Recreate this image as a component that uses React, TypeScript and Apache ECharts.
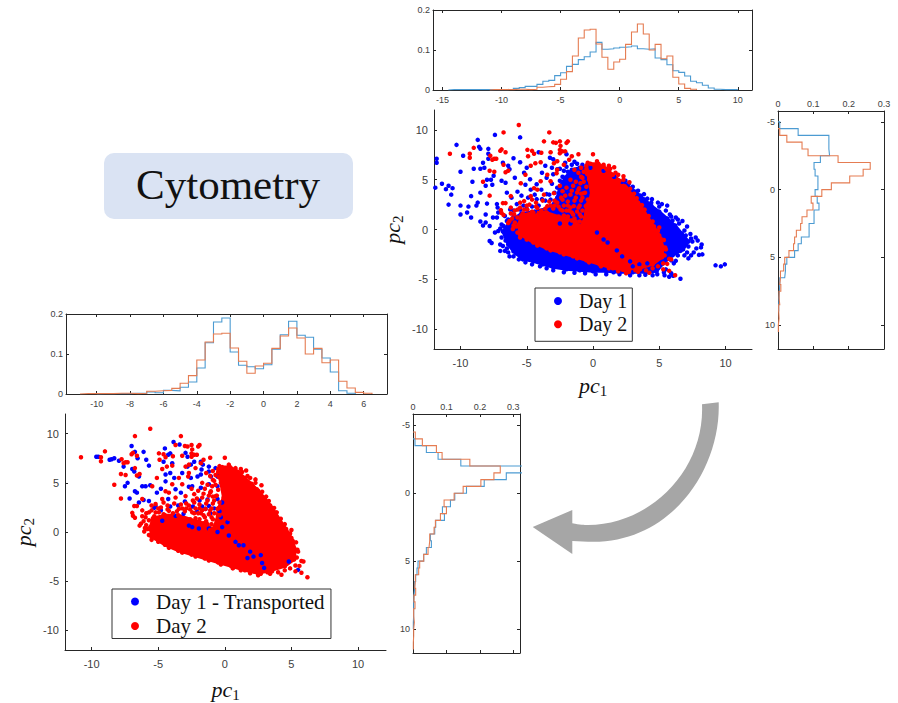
import React, { useEffect, useRef } from "react";
import * as echarts from "echarts";

const TITLE = "Cytometry";
const LEGEND_TOP = ["Day 1", "Day 2"];
const LEGEND_BOTTOM = ["Day 1 - Transported", "Day 2"];
const BLUE_DOT = "#0000ff";
const RED_DOT = "#ff0000";
const HIST_BLUE = "#4c9bd2";
const HIST_ORANGE = "#e57c52";
const INK = "#262626";
const BIN = 0.5;

const scatterXTicks = [-10, -5, 0, 5, 10];
const scatterYTicks = [-10, -5, 0, 5, 10];
const topHistXTicks = [-15, -10, -5, 0, 5, 10];
const leftHistXTicks = [-10, -8, -6, -4, -2, 0, 2, 4, 6];
const freqTicks = [0, 0.1, 0.2];
const sideFreqTicks = [0, 0.1, 0.2, 0.3];
const sideYTicks = [-5, 0, 5, 10];

// horizontal histograms: first bin edge, then bin heights
const topHistBlueStart = -14.5;
const topHistBlue = [0.001, 0.001, 0.001, 0.001, 0.001, 0.001, 0.001, 0.001, 0.001, 0.001, 0.002, 0.004, 0.006, 0.009, 0.009, 0.014, 0.022, 0.024, 0.036, 0.043, 0.059, 0.064, 0.076, 0.083, 0.095, 0.119, 0.102, 0.103, 0.105, 0.107, 0.108, 0.11, 0.103, 0.102, 0.103, 0.08, 0.076, 0.063, 0.048, 0.044, 0.035, 0.022, 0.018, 0.012, 0.005, 0.002, 0.001, 0.001, 0.001];
const day2HistStart = -11;
const day2Hist = [0.001, 0.001, 0.001, 0.001, 0.002, 0.002, 0.001, 0.002, 0.007, 0.008, 0.009, 0.014, 0.027, 0.046, 0.085, 0.13, 0.15, 0.152, 0.115, 0.082, 0.052, 0.07, 0.077, 0.114, 0.145, 0.165, 0.14, 0.1, 0.114, 0.078, 0.085, 0.032, 0.015, 0.004, 0.002];
const leftHistBlueStart = -10;
const leftHistBlue = [0.001, 0.001, 0.001, 0.001, 0.002, 0.002, 0.005, 0.003, 0.009, 0.008, 0.017, 0.03, 0.065, 0.128, 0.18, 0.19, 0.105, 0.072, 0.068, 0.063, 0.073, 0.112, 0.148, 0.182, 0.147, 0.142, 0.112, 0.09, 0.055, 0.008, 0.002];

// vertical histograms
const rightHistBlueStart = -5;
const rightHistBlue = [0.005, 0.057, 0.144, 0.144, 0.146, 0.12, 0.102, 0.105, 0.113, 0.113, 0.105, 0.111, 0.116, 0.102, 0.102, 0.088, 0.088, 0.066, 0.057, 0.047, 0.025, 0.021, 0.019, 0.005, 0.004, 0.003, 0.002, 0.002];
const rightHistOrangeStart = -4.5;
const rightHistOrange = [0.005, 0.025, 0.068, 0.085, 0.17, 0.261, 0.241, 0.203, 0.151, 0.124, 0.094, 0.099, 0.082, 0.068, 0.064, 0.052, 0.047, 0.044, 0.031, 0.019, 0.016, 0.007, 0.005, 0.008, 0.003, 0.005, 0.002, 0.003, 0.001, 0.001];
const sideHistBlueStart = -4;
const sideHistBlue = [0.006, 0.04, 0.075, 0.143, 0.36, 0.279, 0.213, 0.16, 0.125, 0.112, 0.088, 0.094, 0.068, 0.065, 0.052, 0.055, 0.04, 0.032, 0.015, 0.012, 0.008, 0.005, 0.003, 0.002, 0.002, 0.002, 0.001, 0.001];
const sideHistOrangeStart = -4.5;
const sideHistOrange = [0.007, 0.028, 0.07, 0.087, 0.17, 0.261, 0.242, 0.203, 0.15, 0.123, 0.093, 0.1, 0.082, 0.067, 0.063, 0.05, 0.048, 0.045, 0.032, 0.02, 0.017, 0.007, 0.005, 0.008, 0.003, 0.006, 0.002, 0.004, 0.002, 0.002, 0.001, 0.001];

// dense part of each cloud, outlined
const day1Mass = [[-6.8, -0.2], [-6.4, -1.5], [-6, -2.2], [-5.3, -3], [-4.5, -3.2], [-3.8, -3.5], [-3, -3.8], [-2, -4], [-1, -4.1], [0, -4.2], [1, -4.2], [2, -4.3], [3, -4.3], [4, -4.3], [4.8, -4.2], [5.3, -3.4], [6, -2.6], [6.8, -2], [7.2, -1.2], [6.7, -0.4], [6.2, 0.4], [5.6, 1.1], [5, 1.8], [4.4, 2.4], [3.9, 3], [3.2, 3.8], [2.5, 4.5], [1.6, 5.3], [0.8, 5.9], [-0.2, 6.2], [-1, 6.2], [-1.6, 6], [-2.1, 5.2], [-2.5, 4.3], [-2.7, 3.2], [-3.2, 2.2], [-4.4, 1.8], [-5.4, 1.6], [-6.2, 0.9]];
const day2Mass = [[-5.5, -0.5], [-4.5, -1.3], [-3.5, -1.9], [-2.5, -2.3], [-1.5, -2.7], [-0.5, -3.1], [0.5, -3.5], [1.5, -3.9], [2.5, -4.2], [3.5, -3.9], [4.5, -3.5], [5.2, -2.8], [5.3, -1.8], [5, -0.6], [4.6, 0.3], [4.1, 1.3], [3.6, 2.4], [3, 3.4], [2.5, 4.2], [2, 4.9], [1.5, 5.5], [1, 6.1], [0.4, 6.6], [-0.2, 6.6], [-0.5, 6.1], [-0.3, 5], [-0.1, 3.5], [-0.5, 2.4], [-0.6, 1.2], [-0.9, 0.3], [-1.6, 0.9], [-2.6, 1.3], [-3.5, 1.7], [-4.5, 1.7], [-5.4, 1.4], [-5.6, 0.5]];

// loose points around the dense parts
const day1Points = [[-11.9, 4.2], [-11.8, 7.1], [-11.8, 6.7], [-11.4, 4.6], [-11.1, 4.05], [-10.9, 4.4], [-10.6, 4.15], [-10.7, 3.5], [-10.9, 2.5], [-10.3, 8.5], [-10, 5.8], [-10, 2.4], [-10, 1.5], [-9.8, 7.4], [-9.4, 2.3], [-9.5, 1.7], [-9.2, 1.2], [-9.2, 3.35], [-9.1, 4.8], [-9, 6.1], [-8.7, 9], [-8.6, 8.3], [-8.5, 8.1], [-8.8, 2.4], [-8.7, 2.7], [-8.5, 3.7], [-8.5, 6.1], [-8.3, 6.7], [-8.2, 6.2], [-8, 5], [-8.1, 4.4], [-8, 2.6], [-8.1, 1.5], [-8.5, 0.8], [-8.3, 0.4], [-8.1, 0.7], [-7.9, 8.1], [-7.9, 7.6], [-7.9, 7.1], [-7.7, 5], [-7.6, 4.5], [-7.5, 5.4], [-7.4, 9.5], [-7.2, 2.2], [-6.9, 4.9], [-6.6, 4.7], [-6.8, 6.7], [-6.4, 6.4], [-6.3, 6.05], [-6, 7.15], [-5.9, 5.2], [-5.5, 6.75], [-5.5, 9.25], [-5, 6.2], [-5.2, 5.7], [-4.75, 5.05], [-4.25, 4.55], [-4.1, 7.75], [-3.6, 6.4], [-3.85, 5.7], [-3.25, 7.2], [-3, 7.05], [-3.1, 6.2], [-3.5, 5.2], [-3, 5.55], [-2.7, 6.05], [-2.1, 6.7], [-2, 7.55], [-6.5, 3.7], [-6.15, 3.2], [-7.25, 2.55], [-7.15, 1.7], [-7.55, 1.2], [-7.25, 1.2], [-7.8, 0.35], [-7.4, -0.3], [-7.8, -1.15], [-7.65, -1.35], [-7.15, -0.15], [-6.9, -0.8], [-7, -1.5], [-7, -2.15], [-6.65, -2.15], [-6.4, -2.3], [-6.8, -1.65], [-6.75, 0.35], [-6.5, 0.85], [-6.65, 1.35], [-6.25, 2], [-5.75, 2.55], [-5.25, 2.4], [-4.9, 3.2], [-4.25, 3.05], [-3.5, 3.55], [-3.85, 3.05], [9.95, -3.5], [9.65, -3.7], [9.25, -3.6], [8.25, -2.5], [8, -2.55], [8.2, -1.5], [8.15, -1.8], [7.75, -0.8], [7.35, -0.45], [6.75, 0.85], [6.25, 1.2], [6.6, -2.15], [7.1, -2.3], [7.6, -2.3], [5.6, 2.4], [5.2, 2.55], [4.45, 3.05], [3.85, 3.55], [2.45, 4.9], [6.6, -4.95], [6.05, -4.65], [5.75, -4.75], [5.85, -2.65], [6.25, -3.15], [5.35, -4.3], [4.85, -4.5], [3.95, -4.55], [1.55, -4.3],
  [7.8, -1.9], [7.5, -1.2], [7.9, -1.1], [7.2, -1.7], [7, -0.6], [7.4, -0.9], [6.9, -0.1], [7.1, 0.3], [6.5, 0.6], [6.4, 1], [5.9, 1.3], [6, 0.9], [5.5, 1.9], [5.8, 1.5], [5, 2.3], [4.9, 2.7], [4.4, 2.7], [4.1, 3.1], [3.6, 3.4], [3.4, 3.9], [3, 4.3], [2.7, 4.6], [2.2, 4.8], [6.9, -2.6], [6.4, -2.6], [7.4, -2.6], [7.2, -2.9], [6.1, -3.4], [5.9, -3.1], [5.5, -4], [5.9, -4.4], [5.4, -4.6], [4.5, -4.6], [3.5, -4.6], [2.8, -4.6], [2, -4.5], [1, -4.5], [0.2, -4.5], [-0.6, -4.4], [-1.4, -4.35], [-2.2, -4.3], [-3, -4.1], [-3.5, -3.9], [-4, -3.7], [-4.6, -3.5], [-5.1, -3.3], [-5.6, -3], [-6, -2.7], [-6.3, -2.7], [-5.8, -2.4], [-6.5, -1.9], [-6.2, -1.4], [-6.6, -1.1], [-6.1, -0.7], [-6.4, -0.4],
  [-2.9, 3.7], [-2.7, 4.2], [-2.5, 4.9], [-2.3, 5.3], [-2.2, 5.9], [-1.9, 5.8], [-1.6, 6.5], [-1.2, 6.6], [-0.8, 6.5], [-0.4, 6.55], [-1.4, 6.8], [-2, 6.3], [-2.5, 6.1], [-3.1, 4.6], [-3.3, 3.5], [-3.2, 3], [-3.6, 2.9], [-4.1, 2.4], [-4.6, 2.3], [-5, 2.1], [-5.5, 2], [-6, 1.9], [-6, 1.3], [-6.4, 1], [-6.9, 0.5], [-7, 0.1], [-4.4, 3.5], [-3.9, 4], [-4.7, 4], [-5.4, 3.4], [-5.7, 3.8], [-5.1, 4.5]];
const day1Specks = [[1.1, -1.3], [1.8, -2.1], [2.2, -2.7], [2.8, -3.2], [3, -3.7], [4.1, -3.4], [3.5, -3.5], [4.6, -3.8], [-2.5, 0.6], [-1.7, 0.6], [0.3, -0.3], [0.8, -1]];
const transportedPoints = [[-9.65, 7.65], [-9.5, 7.65], [-8.65, 7.35], [-8.5, 7.4], [-8.3, 7.5], [-7.95, 7.25], [-7.6, 6.65], [-7, 8.75], [-6.75, 8.15], [-6.1, 8.15], [-6.55, 7.5], [-5.9, 7.35], [-5.7, 6.75], [-6.95, 6.4], [-6.8, 6.15], [-6.45, 5.65], [-7.3, 5], [-7.5, 4.65], [-6.75, 4.15], [-6.6, 4], [-6.2, 4.65], [-5.95, 4.65], [-5.6, 4.75], [-7.15, 3.4], [-6.45, 3], [-6.1, 3.25], [-5.7, 3.15], [-5.2, 2.65], [-5.3, 2.45], [-5.1, 4], [-4.8, 4.4], [-4.45, 5.15], [-4.45, 5.85], [-4.1, 6], [-4.25, 3.35], [-3.85, 9.15], [-3.4, 8.9], [-4.5, 8.5], [-4.1, 8], [-4.25, 7.85], [-4.6, 7.15], [-3.95, 7], [-3.8, 5.5], [-2.95, 8.05], [-2.8, 7.65], [-3.2, 6], [-2.8, 6.65], [-2.55, 6.85], [-2.3, 7.15], [-1.8, 7.15], [-1.65, 6.85], [-1.2, 6.65], [-0.7, 6.5], [-1.75, 6.35], [-1.2, 6.15], [-2.05, 5.65], [-2.55, 5.5], [-1.8, 5.85], [-1.05, 5.65], [-0.55, 5.65], [-2.45, 4.65], [-1.8, 4.5], [-1.2, 4.85], [-0.55, 4.65], [-2.7, 4.6], [-3.7, 4.35], [-3.3, 4], [-1.45, 2.35], [-1.2, 2.65], [-0.55, 3.35], [-0.2, 3], [-2.7, 0.65], [-2.45, 0.5], [-1.95, 0.35], [-1.2, 0.35], [-0.55, 0], [-0.2, 0.5], [0.2, 1], [0.3, -0.35], [0.8, -1], [1.05, -1.35], [1.4, -1.35], [1.9, -2], [2.15, -2.5], [2.7, -2.35], [2.8, -3.15], [2.95, -3.65], [1.7, -2.65], [5.5, -3.85], [4.8, -3], [-3.7, 1.65], [-3.1, 1.85], [-4.7, 1.15],
  [-4.8, 2.2], [-4.1, 2.6], [-3.5, 2.7], [-3, 3.1], [-2.4, 2.6], [-1.9, 3.2], [-1.3, 3.3], [-1.7, 2.6], [-2.1, 2.1], [-0.8, 2.4], [-0.4, 2.1], [-0.3, 1.5], [-1.1, 1.9]];
const day2Points = [[-10.8, 7.6], [-9.3, 7.6], [-9, 8.2], [-9.3, 7.2], [-7.75, 7.4], [-7.45, 7.1], [-7.6, 7], [-7.3, 7.1], [-7.8, 5.9], [-7.45, 5.8], [-8.3, 4.8], [-6.75, 9.75], [-5.6, 10.5], [-7, 7.9], [-6.9, 8.05], [-6.6, 7.75], [-6.75, 6.5], [-6.4, 5.9], [-6.6, 5.75], [-7.8, 3.4], [-5.1, 5.5], [-4.95, 8], [-4.6, 7.9], [-4.9, 7.35], [-4.45, 7.6], [-3.9, 7.7], [-4.7, 6.4], [-4.35, 6.65], [-3.95, 6.75], [-3.3, 9.75], [-3.7, 8.85], [-3, 8.75], [-2.8, 8.7], [-2.5, 8.85], [-2.45, 8.4], [-1.9, 8.85], [-2, 8.7], [-2.5, 8], [-2.3, 7.85], [-2.1, 7.85], [-2.5, 7.65], [-3.2, 7.75], [-1.6, 7.35], [-1.1, 7.55], [0, 7.55], [-2.7, 6.85], [-2.95, 6.65], [-1.8, 7], [-2.2, 6.5], [-2.7, 6], [-2.75, 5.65], [-3.45, 5.5], [-3.2, 4.85], [-3.95, 4.85], [-4.2, 4], [-4.45, 4.15], [-5.45, 4.65], [-6.2, 3.35], [-6.6, 2.65], [-6.8, 2.65], [-6.95, 1.95], [-6.9, 1.65], [-6.75, 1.45], [-6.3, 0.85], [-6.05, 0.05], [-6.4, 0.65], [-5.95, 1.5], [-5.7, 2], [-5.2, 2.85], [-4.7, 3.35], [-3.7, 3.5], [-2.95, 3.65], [-2.3, 3.85], [-1.7, 3.5], [-0.95, 4.65], [-1.05, 4.15], [-0.7, 3.65], [-0.2, 2.5], [0.3, 1.35], [-0.55, 2.35], [-1.45, 2.35], [-2.45, 2], [-3.45, 2.35], [-4.2, 2.15], [-4.95, 2], [0.3, 6.85], [0.8, 6.5], [1.2, 6.4], [1.6, 6.25], [1.9, 5.5], [2.3, 5.35], [2.75, 4.75], [2.4, 4.35], [2.8, 3.6], [3.3, 3.15], [3.7, 2.45], [3.7, 1.85], [4.2, 1.35], [4.9, -0.15], [5.35, -1.05], [5.5, -2], [5.75, -2.95], [5.9, -3], [5.6, -3.45], [5.75, -4.15], [6.2, -4.6], [5.3, -4], [4.25, -4.35], [3.55, -4], [3.4, -4.25], [2.7, -4.25], [2.2, -4], [-5.7, 1.2], [-5.3, 1.6], [-4.6, 1.8], [-3.9, 1.9], [-3, 2.1], [-2.2, 2.4], [-1.6, 1.7], [-1, 1.5], [-0.6, 1.1], [-0.7, 0.6], [-1.4, 1.1], [-2.9, 2.9], [-1.9, 2.8], [-0.9, 2.9], [-0.5, 4.3], [-1.5, 4.4], [-0.9, 5.3], [-0.8, 3.2], [-5.6, 0.3], [-5.9, 0.7], [-5, 2.4], [-4.3, 2.7], [-3.3, 2.8], [-2.4, 3.2], [-1.2, 3.7], [-0.45, 5.6],
  [-0.7, 5.8], [-0.8, 5.2], [-0.7, 4.8], [-1.1, 4], [-0.9, 3.6], [-1.3, 3.2], [-1.4, 2.9], [-1, 2.4], [-0.8, 1.9], [-1.2, 1.8], [-1.7, 2.2], [-2, 1.9], [-2.6, 2.3], [-2.9, 2.4], [-3.6, 2.1], [-4.3, 2.3], [-4.8, 2.5], [-5.5, 2.2], [-5.9, 1.9], [-6.2, 1.6], [-6.1, 1.1], [-5.8, 0.3], [-5.7, -0.3], [-2.2, 1.4], [-1.9, 1.3], [-1.3, 0.8], [-1, 0.8], [-0.9, 1.3], [-1.5, 1.5], [-1.1, 0.2], [-0.9, -0.2], [5.1, -0.9], [5, 0.2], [4.5, 0.8], [3.9, 2], [3.4, 2.7], [3.1, 3.6], [2.8, 4.1], [2.3, 5], [1.7, 5.7], [1.3, 6.1], [0.8, 6.3], [-0.4, 6.7], [-0.5, 6.4], [5.45, -1.8], [5.4, -2.6], [5.3, -3.4], [4.9, -3.7], [4.5, -3.9], [4, -4.1], [3.2, -4.1], [2.5, -4.4], [1.9, -4.2], [1.2, -3.9], [0.6, -3.7], [-0.3, -3.3], [-1.2, -2.9], [-2.2, -2.5], [-3.2, -2.1], [-4.2, -1.6], [-5, -1], [-5.5, -0.8],
  [-2.1, 3.4], [-1.6, 3.9], [-2, 4.2], [-2.5, 4.4], [-1.3, 4.8], [-1.7, 5], [-1.1, 5.7], [-1.4, 6], [-0.9, 6.2], [-2.3, 3], [-2.7, 2.7], [-3.8, 2.9], [-4.6, 3], [-5.5, 2.7], [-1.9, 2.4], [-1.1, 2.2], [-0.4, 3], [-0.6, 3.7], [-0.4, 1.7], [-1.8, 1.9], [-3.2, 2.4], [-2.3, 1.9], [-5.2, 2], [-6, 0.4], [-6.2, 2.2]];

const FONT = "'Liberation Sans', Arial, sans-serif";
const SERIF = "'Liberation Serif', 'DejaVu Serif', serif";
const ARROW_D = "M702 404.3 L718.7 402.3 C721 470 670 545 588 541.7 L572.3 541 L572.3 554 L532.7 527 L572.3 510 L572.3 523.3 C580 525 584 525 588 525 C650 525 705 470 702 404.3 Z";

const stairsX = (start: number, vals: number[]) => {
  const out: number[][] = [[start, 0]];
  vals.forEach((v, i) => { out.push([start + i * BIN, v]); out.push([start + (i + 1) * BIN, v]); });
  out.push([start + vals.length * BIN, 0]);
  return out;
};
const stairsY = (start: number, vals: number[]) => stairsX(start, vals).map(([a, b]) => [b, a]);

const grids = [
  { left: 434, top: 110, width: 318, height: 239 },
  { left: 433, top: 10, width: 319, height: 80 },
  { left: 778, top: 111, width: 106, height: 238 },
  { left: 65, top: 414, width: 321, height: 239 },
  { left: 66, top: 314, width: 321, height: 80 },
  { left: 413, top: 414, width: 107, height: 239 },
];

const axisBase = (gridIndex: number, position: string, min: number, max: number, ticks: number[], tickLen: number, labelOpt: any) => ({
  type: "value",
  gridIndex,
  position,
  min,
  max,
  splitLine: { show: false },
  axisLine: { show: true, onZero: false, lineStyle: { color: INK, width: 1 } },
  axisTick: { show: true, inside: true, length: tickLen, customValues: ticks, lineStyle: { color: INK, width: 1 } },
  axisLabel: labelOpt
    ? { show: true, customValues: ticks, color: "#404040", fontFamily: FONT, showMinLabel: true, showMaxLabel: true, ...labelOpt }
    : { show: false },
});

const nameStyle = () => ({
  rich: {
    a: { fontFamily: SERIF, fontStyle: "italic", fontSize: 22, color: "#111", lineHeight: 26, verticalAlign: "middle" },
    b: { fontFamily: SERIF, fontSize: 15, color: "#111", lineHeight: 26, verticalAlign: "bottom" },
  },
});

const massSeries = (name: string, mass: number[][], color: string, xi: number, yi: number) => ({
  name,
  type: "custom",
  coordinateSystem: "cartesian2d",
  xAxisIndex: xi,
  yAxisIndex: yi,
  silent: true,
  data: [mass[0]],
  encode: { x: 0, y: 1 },
  renderItem: (_p: any, api: any) => ({
    type: "polygon",
    shape: { points: mass.map((p) => api.coord(p)) },
    style: { fill: color, stroke: color, lineWidth: 3, lineJoin: "round" },
  }),
});

const dots = (name: string, data: number[][], color: string, xi: number, yi: number) => ({
  name,
  type: "scatter",
  xAxisIndex: xi,
  yAxisIndex: yi,
  symbol: "circle",
  symbolSize: 4.5,
  silent: true,
  data,
  itemStyle: { color, opacity: 1 },
});

const histLine = (data: number[][], color: string, xi: number, yi: number) => ({
  type: "line",
  xAxisIndex: xi,
  yAxisIndex: yi,
  data,
  symbol: "none",
  silent: true,
  clip: true,
  lineStyle: { color, width: 1.1, join: "miter" },
});

const legendOf = (names: string[], left: number, top: number, padding: number[], fontSize: number, gap: number) => ({
  show: true,
  orient: "vertical",
  left,
  top,
  padding,
  itemGap: gap,
  itemWidth: 32,
  itemHeight: 8,
  selectedMode: false,
  backgroundColor: "#ffffff",
  borderColor: "#333333",
  borderWidth: 1,
  borderRadius: 0,
  z: 20,
  textStyle: { fontFamily: SERIF, fontSize, color: "#111", lineHeight: 18 },
  data: names.map((name) => ({ name, icon: "circle" })),
});

export default function App() {
  const ref = useRef<HTMLDivElement>(null);
  useEffect(() => {
    if (!ref.current) return;
    echarts.graphic.registerShape("curvedArrow", echarts.graphic.extendPath(ARROW_D as any, {} as any) as any);
    const chart = echarts.init(ref.current, null, { renderer: "svg" });

    const xAxis = [
      { ...axisBase(0, "bottom", -12, 12, scatterXTicks, 3, { fontSize: 11, margin: 8 }), name: "{a|pc}{b|1}", nameLocation: "middle", nameGap: 23, nameTextStyle: nameStyle() },
      axisBase(1, "bottom", -15.8, 11.2, topHistXTicks, 3, { fontSize: 9, margin: 5 }),
      axisBase(1, "top", -15.8, 11.2, topHistXTicks, 3, null),
      axisBase(2, "top", 0, 0.3, sideFreqTicks, 3, { fontSize: 9, margin: 3 }),
      axisBase(2, "bottom", 0, 0.3, sideFreqTicks, 3, null),
      { ...axisBase(3, "bottom", -12, 12.1, scatterXTicks, 3, { fontSize: 11, margin: 8 }), name: "{a|pc}{b|1}", nameLocation: "middle", nameGap: 26, nameTextStyle: nameStyle() },
      axisBase(4, "bottom", -11.84, 7.4, leftHistXTicks, 3, { fontSize: 9, margin: 5 }),
      axisBase(4, "top", -11.84, 7.4, leftHistXTicks, 3, null),
      axisBase(5, "top", 0, 0.32, sideFreqTicks, 3, { fontSize: 9, margin: 3 }),
      axisBase(5, "bottom", 0, 0.32, sideFreqTicks, 3, null),
    ];
    const yAxis = [
      { ...axisBase(0, "left", -12, 12, scatterYTicks, 3, { fontSize: 11, margin: 6 }), name: "{a|pc}{b|2}", nameLocation: "middle", nameGap: 29, nameRotate: 90, nameTextStyle: nameStyle() },
      axisBase(1, "left", 0, 0.2, freqTicks, 3, { fontSize: 9, margin: 3 }),
      axisBase(1, "right", 0, 0.2, freqTicks, 3, null),
      { ...axisBase(2, "left", -5.8, 11.76, sideYTicks, 3, { fontSize: 9, margin: 3 }), inverse: true },
      { ...axisBase(2, "right", -5.8, 11.76, sideYTicks, 3, null), inverse: true },
      { ...axisBase(3, "left", -12, 12, scatterYTicks, 3, { fontSize: 11, margin: 6 }), name: "{a|pc}{b|2}", nameLocation: "middle", nameGap: 29, nameRotate: 90, nameTextStyle: nameStyle() },
      axisBase(4, "left", 0, 0.2, freqTicks, 3, { fontSize: 9, margin: 3 }),
      axisBase(4, "right", 0, 0.2, freqTicks, 3, null),
      { ...axisBase(5, "left", -5.83, 11.76, sideYTicks, 3, { fontSize: 9, margin: 3 }), inverse: true },
      { ...axisBase(5, "right", -5.83, 11.76, sideYTicks, 3, null), inverse: true },
    ];

    const series: any[] = [
      // top scatter
      massSeries("Day 1 cloud", day1Mass, BLUE_DOT, 0, 0),
      dots("Day 1", day1Mass, BLUE_DOT, 0, 0),
      dots("Day 1", day1Points, BLUE_DOT, 0, 0),
      massSeries("Day 2 cloud", day2Mass, RED_DOT, 0, 0),
      dots("Day 1", day1Specks, BLUE_DOT, 0, 0),
      dots("Day 2", day2Mass, RED_DOT, 0, 0),
      dots("Day 2", day2Points, RED_DOT, 0, 0),
      // top histograms
      histLine(stairsX(topHistBlueStart, topHistBlue), HIST_BLUE, 1, 1),
      histLine(stairsX(day2HistStart, day2Hist), HIST_ORANGE, 1, 1),
      // right histograms
      histLine(stairsY(rightHistBlueStart, rightHistBlue), HIST_BLUE, 3, 3),
      histLine(stairsY(rightHistOrangeStart, rightHistOrange), HIST_ORANGE, 3, 3),
      // bottom scatter
      massSeries("Day 2 cloud", day2Mass, RED_DOT, 5, 5),
      dots("Day 1 - Transported", transportedPoints, BLUE_DOT, 5, 5),
      dots("Day 2", day2Mass, RED_DOT, 5, 5),
      dots("Day 2", day2Points, RED_DOT, 5, 5),
      // left histograms
      histLine(stairsX(leftHistBlueStart, leftHistBlue), HIST_BLUE, 6, 6),
      histLine(stairsX(day2HistStart, day2Hist), HIST_ORANGE, 6, 6),
      // bottom side histograms
      histLine(stairsY(sideHistBlueStart, sideHistBlue), HIST_BLUE, 8, 8),
      histLine(stairsY(sideHistOrangeStart, sideHistOrange), HIST_ORANGE, 8, 8),
    ];

    chart.setOption({
      animation: false,
      backgroundColor: "#ffffff",
      grid: grids.map((g) => ({ ...g, containLabel: false })),
      xAxis,
      yAxis,
      series,
      legend: [
        legendOf(LEGEND_TOP, 535, 288, [3, 5, 7, 19], 20, 3.3),
        legendOf(LEGEND_BOTTOM, 112, 589, [2, 6, 2, 19], 21, 3.5),
      ],
      graphic: [
        { type: "rect", shape: { x: 104, y: 153, width: 249, height: 66, r: 10 }, style: { fill: "#dae3f3" }, z: 1 },
        { type: "text", x: 228, y: 184, z: 2, style: { text: TITLE, fill: "#111", fontFamily: SERIF, fontSize: 43, align: "center", verticalAlign: "middle" } },
        { type: "curvedArrow", x: 0, y: 0, z: 2, style: { fill: "#a6a6a6" } },
      ],
    });
    return () => chart.dispose();
  }, []);
  return <div ref={ref} style={{ position: "absolute", left: 0, top: 0, width: 898, height: 703 }} />;
}
